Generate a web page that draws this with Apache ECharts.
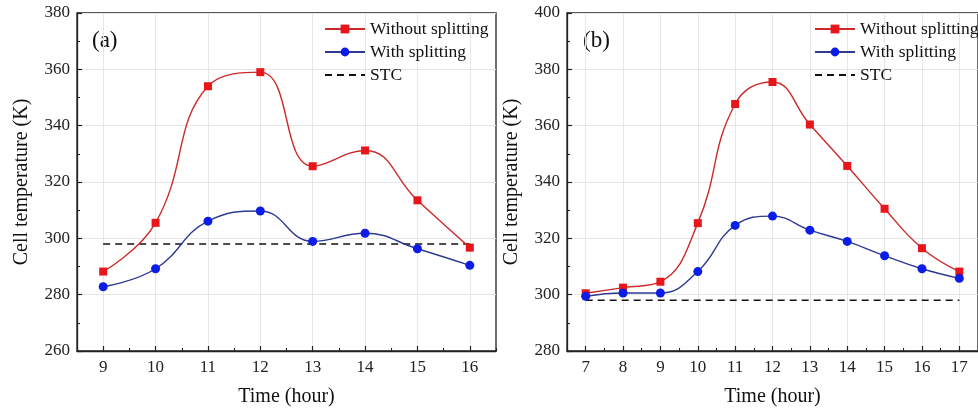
<!DOCTYPE html>
<html>
<head>
<meta charset="utf-8">
<script src="https://cdn.jsdelivr.net/npm/echarts@6/dist/echarts.min.js"></script>
<style>
html,body{margin:0;padding:0;background:#fff;}
#c{width:978px;height:412px;}
</style>
</head>
<body>
<div id="c"></div>
<script>
// ---- data ----
var hoursA = ['9','10','11','12','13','14','15','16'];
var withoutA = [288.2, 305.5, 354.0, 359.0, 325.6, 331.2, 313.5, 296.7];
var withA = [282.8, 289.2, 306.1, 309.7, 298.9, 301.8, 296.3, 290.4];
var hoursB = ['7','8','9','10','11','12','13','14','15','16','17'];
var withoutB = [300.5, 302.5, 304.6, 325.4, 367.7, 375.5, 360.4, 345.7, 330.5, 316.5, 308.2];
var withB = [299.4, 300.6, 300.6, 308.2, 324.6, 327.9, 322.9, 318.9, 313.8, 309.2, 305.8];
var STC = 298;
var stcA = hoursA.map(function(){return STC;});
var stcB = hoursB.map(function(){return STC;});
var yTicksA = {min:260, max:380, interval:20};
var yTicksB = {min:280, max:400, interval:20};

var FONT = '"Liberation Serif", "Times New Roman", serif';
var RED_LINE = '#cc2a2a', RED_SYM = '#e8151b';
var BLUE_LINE = '#2e3a92', BLUE_SYM = '#0b1de6';
var GRIDC = '#e6e6e6';
var AXC = '#222';

var chart = echarts.init(document.getElementById('c'), null, {renderer:'canvas'});

function mainX(grid, data){
  return {
    type:'category', gridIndex:grid, data:data, boundaryGap:true,
    axisLine:{show:true, lineStyle:{color:AXC, width:1.3}},
    axisTick:{show:true, inside:true, alignWithLabel:true, length:5, lineStyle:{color:AXC, width:1.2}},
    axisLabel:{fontFamily:FONT, fontSize:17, color:'#222', margin:8},
    splitLine:{show:true, alignWithLabel:true, lineStyle:{color:GRIDC, width:1}},
    name:'Time (hour)', nameLocation:'middle', nameGap:36,
    nameTextStyle:{fontFamily:FONT, fontSize:20, color:'#111'}
  };
}
function minorX(grid, data){
  return {
    type:'category', gridIndex:grid, data:data, boundaryGap:true, position:'bottom',
    axisLine:{show:false},
    axisTick:{show:true, inside:true, length:3, lineStyle:{color:AXC, width:1.1}},
    axisLabel:{show:false}, splitLine:{show:false}
  };
}
function yAx(grid, t){
  return {
    type:'value', gridIndex:grid, min:t.min, max:t.max, interval:t.interval,
    axisLine:{show:true, lineStyle:{color:AXC, width:1.3}},
    axisTick:{show:true, inside:true, length:5, lineStyle:{color:AXC, width:1.2}},
    minorTick:{show:true, splitNumber:2, length:3, lineStyle:{color:AXC, width:1.1}},
    axisLabel:{fontFamily:FONT, fontSize:17, color:'#222', margin:7},
    splitLine:{show:true, lineStyle:{color:GRIDC, width:1}},
    name:'Cell temperature (K)', nameLocation:'middle', nameGap:45,
    nameTextStyle:{fontFamily:FONT, fontSize:20, color:'#111'}
  };
}
function seriesSet(xi, yi, wo, w, stc){
  return [
    {name:'Without splitting', type:'line', xAxisIndex:xi, yAxisIndex:yi, data:wo,
     smooth:0.45, symbol:'rect', symbolSize:8, showAllSymbol:true,
     lineStyle:{color:RED_LINE, width:1.4}, itemStyle:{color:RED_SYM}, z:4},
    {name:'With splitting', type:'line', xAxisIndex:xi, yAxisIndex:yi, data:w,
     smooth:0.45, symbol:'circle', symbolSize:9, showAllSymbol:true,
     lineStyle:{color:BLUE_LINE, width:1.4}, itemStyle:{color:BLUE_SYM}, z:4},
    {name:'STC', type:'line', xAxisIndex:xi, yAxisIndex:yi, data:stc,
     symbol:'none', lineStyle:{color:'#111', width:1.6, type:[7,5]}, itemStyle:{color:'rgba(0,0,0,0)'}, z:3}
  ];
}
function legend(left){
  return {
    orient:'vertical', left:left, top:20, padding:0, itemWidth:40, itemHeight:11, itemGap:5,
    selectedMode:false,
    textStyle:{fontFamily:FONT, fontSize:17.5, color:'#111', lineHeight:17},
    data:['Without splitting','With splitting','STC']
  };
}

var option = {
  animation:false,
  backgroundColor:'#fff',
  grid:[
    {left:77, top:13, width:419, height:338, show:true, borderColor:AXC, borderWidth:1.3, backgroundColor:'transparent'},
    {left:567, top:13, width:419, height:338, show:true, borderColor:AXC, borderWidth:1.3, backgroundColor:'transparent'}
  ],
  xAxis:[mainX(0,hoursA), minorX(0,hoursA), mainX(1,hoursB), minorX(1,hoursB)],
  yAxis:[yAx(0,yTicksA), yAx(1,yTicksB)],
  legend:[legend(324), legend(814)],
  graphic:[
    {type:'text', left:92, top:29, style:{text:'(a)', font:'23px '+FONT, fill:'#111'}},
    {type:'text', left:583, top:29, style:{text:'(b)', font:'23px '+FONT, fill:'#111'}}
  ],
  series:[].concat(seriesSet(0,0,withoutA,withA,stcA), seriesSet(2,1,withoutB,withB,stcB))
};
chart.setOption(option);
</script>
</body>
</html>
